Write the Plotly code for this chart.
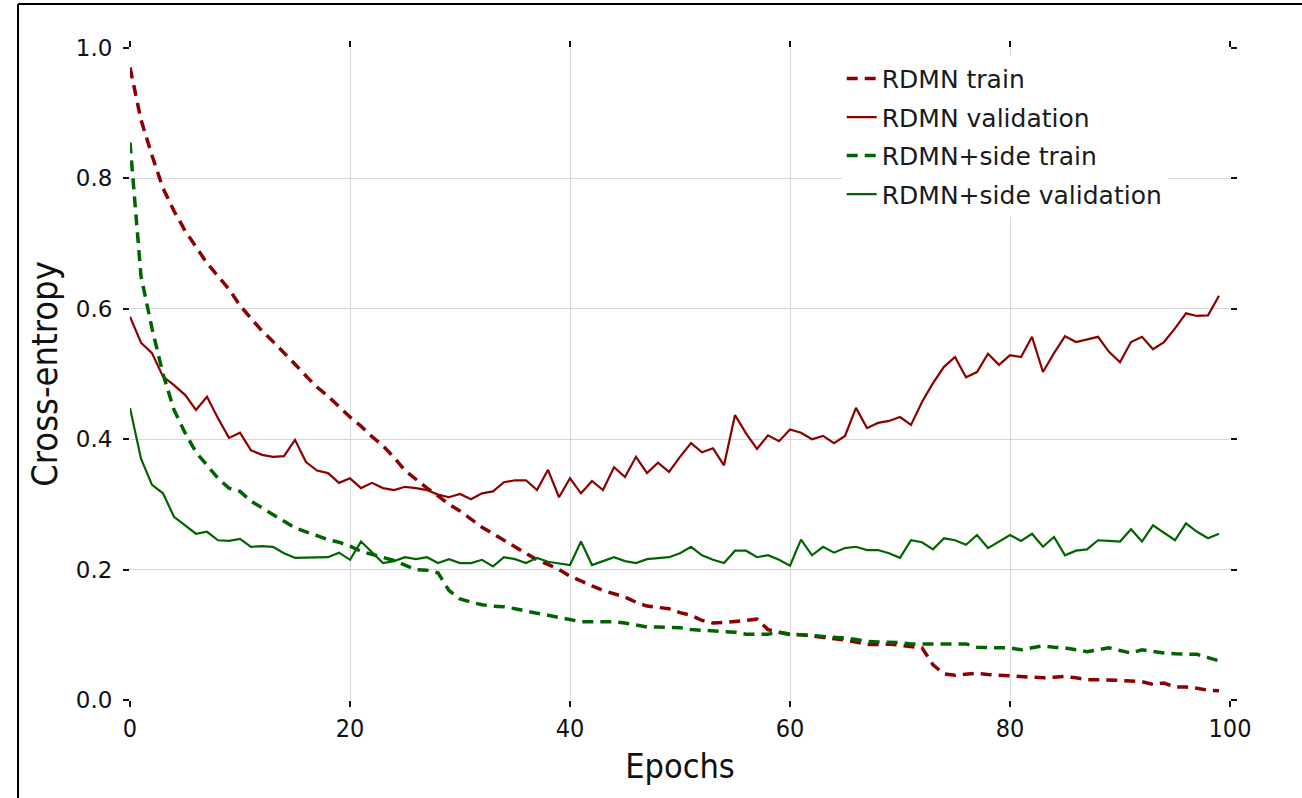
import plotly.graph_objects as go

# Training curves (cross-entropy per epoch)
epochs = list(range(100))

rdmn_train = [
    0.970, 0.890, 0.835, 0.785, 0.750, 0.720, 0.695, 0.670, 0.650, 0.630,
    0.605, 0.585, 0.566, 0.550, 0.533, 0.515, 0.497, 0.480, 0.466, 0.450,
    0.434, 0.420, 0.404, 0.390, 0.372, 0.352, 0.338, 0.325, 0.313, 0.300,
    0.290, 0.277, 0.265, 0.255, 0.245, 0.235, 0.225, 0.215, 0.208, 0.200,
    0.190, 0.182, 0.175, 0.168, 0.163, 0.158, 0.150, 0.144, 0.142, 0.140,
    0.134, 0.130, 0.122, 0.118, 0.119, 0.120, 0.122, 0.124, 0.108, 0.104,
    0.101, 0.100, 0.098, 0.097, 0.094, 0.092, 0.089, 0.085, 0.085, 0.086,
    0.084, 0.082, 0.080, 0.054, 0.040, 0.038, 0.040, 0.041, 0.039, 0.038,
    0.036, 0.035, 0.034, 0.034, 0.035, 0.036, 0.034, 0.031, 0.031, 0.031,
    0.030, 0.029, 0.028, 0.024, 0.026, 0.020, 0.020, 0.018, 0.015, 0.014,
]

rdmn_val = [
    0.588, 0.548, 0.532, 0.496, 0.483, 0.468, 0.445, 0.465, 0.432, 0.402,
    0.410, 0.383, 0.376, 0.373, 0.374, 0.399, 0.365, 0.352, 0.348, 0.333,
    0.340, 0.325, 0.333, 0.325, 0.322, 0.327, 0.325, 0.322, 0.315, 0.311,
    0.316, 0.308, 0.317, 0.320, 0.334, 0.337, 0.337, 0.322, 0.353, 0.311,
    0.340, 0.317, 0.336, 0.322, 0.357, 0.342, 0.373, 0.348, 0.364, 0.350,
    0.373, 0.394, 0.380, 0.386, 0.360, 0.437, 0.409, 0.385, 0.406, 0.397,
    0.415, 0.410, 0.400, 0.405, 0.394, 0.405, 0.448, 0.417, 0.425, 0.428,
    0.434, 0.422, 0.457, 0.486, 0.511, 0.526, 0.495, 0.503, 0.531, 0.514,
    0.529, 0.526, 0.557, 0.503, 0.532, 0.558, 0.549, 0.553, 0.557, 0.534,
    0.518, 0.549, 0.557, 0.538, 0.549, 0.570, 0.593, 0.589, 0.590, 0.620,
]

side_train = [
    0.855, 0.650, 0.570, 0.500, 0.445, 0.410, 0.380, 0.360, 0.340, 0.325,
    0.320, 0.305, 0.295, 0.285, 0.275, 0.264, 0.258, 0.252, 0.246, 0.242,
    0.236, 0.228, 0.223, 0.219, 0.214, 0.207, 0.200, 0.199, 0.195, 0.168,
    0.155, 0.150, 0.146, 0.144, 0.143, 0.140, 0.136, 0.133, 0.130, 0.127,
    0.124, 0.120, 0.120, 0.120, 0.120, 0.118, 0.115, 0.112, 0.112, 0.112,
    0.111, 0.108, 0.107, 0.106, 0.106, 0.104, 0.101, 0.101, 0.101, 0.104,
    0.100, 0.100, 0.099, 0.097, 0.096, 0.095, 0.093, 0.090, 0.089, 0.089,
    0.088, 0.086, 0.086, 0.087, 0.087, 0.087, 0.086, 0.081, 0.080, 0.080,
    0.080, 0.077, 0.080, 0.083, 0.081, 0.080, 0.077, 0.074, 0.077, 0.080,
    0.076, 0.072, 0.077, 0.074, 0.072, 0.071, 0.070, 0.070, 0.065, 0.060,
]

side_val = [
    0.448, 0.370, 0.330, 0.317, 0.281, 0.268, 0.255, 0.258, 0.245, 0.244,
    0.247, 0.235, 0.236, 0.235, 0.225, 0.218, 0.218, 0.219, 0.219, 0.226,
    0.215, 0.243, 0.227, 0.210, 0.213, 0.219, 0.216, 0.219, 0.210, 0.216,
    0.210, 0.210, 0.215, 0.205, 0.219, 0.216, 0.210, 0.218, 0.212, 0.210,
    0.207, 0.243, 0.207, 0.213, 0.219, 0.213, 0.210, 0.216, 0.218, 0.219,
    0.225, 0.235, 0.222, 0.215, 0.210, 0.229, 0.229, 0.219, 0.222, 0.215,
    0.206, 0.246, 0.222, 0.235, 0.226, 0.233, 0.235, 0.230, 0.230, 0.225,
    0.218, 0.245, 0.242, 0.231, 0.248, 0.245, 0.238, 0.253, 0.233, 0.243,
    0.253, 0.244, 0.255, 0.235, 0.250, 0.222, 0.229, 0.231, 0.245, 0.244,
    0.243, 0.262, 0.243, 0.268, 0.256, 0.245, 0.271, 0.258, 0.248, 0.255,
]

x_ticks = [0, 20, 40, 60, 80, 100]
y_ticks = [0.0, 0.2, 0.4, 0.6, 0.8, 1.0]
y_tick_text = ["0.0", "0.2", "0.4", "0.6", "0.8", "1.0"]

RED = "#8b0000"
GREEN = "#006400"
DASH = "11px,7px"

series = [
    ("RDMN train", rdmn_train, RED, DASH, 3.5),
    ("RDMN validation", rdmn_val, RED, "solid", 2.2),
    ("RDMN+side train", side_train, GREEN, DASH, 3.5),
    ("RDMN+side validation", side_val, GREEN, "solid", 2.2),
]

fig = go.Figure()
for i, (name, vals, color, dash, width) in enumerate(series):
    fig.add_trace(go.Scatter(
        x=epochs, y=vals, mode="lines", name=name,
        legendgroup=f"g{i}",
        line=dict(color=color, dash=dash, width=width),
    ))

axis_common = dict(
    showgrid=True, gridcolor="#d8d8d8", gridwidth=1,
    zeroline=False, showline=False,
    ticks="outside", ticklen=6, tickwidth=1.6, tickcolor="#111",
    mirror="ticks",
)

fig.update_layout(
    width=1302, height=798,
    margin=dict(l=130, r=72, t=48, b=98),
    paper_bgcolor="white", plot_bgcolor="white",
    showlegend=True,
    legend=dict(
        x=0.647, y=0.988, xanchor="left", yanchor="top",
        bgcolor="white", borderwidth=0,
        font=dict(family="DejaVu Sans, sans-serif", size=25, color="#1a1a1a"),
        tracegroupgap=3,
    ),
    xaxis=dict(
        range=[0, 100], tickvals=x_ticks, ticktext=[str(t) for t in x_ticks],
        tickfont=dict(family="DejaVu Sans Condensed, Liberation Sans Narrow, sans-serif",
                      size=25, color="#111"),
        title=dict(text="Epochs", standoff=12,
                   font=dict(family="DejaVu Sans Condensed, Liberation Sans Narrow, sans-serif",
                             size=34, color="#111")),
        **axis_common,
    ),
    yaxis=dict(
        range=[0, 1], tickvals=y_ticks, ticktext=y_tick_text,
        ticklabelstandoff=6,
        tickfont=dict(family="DejaVu Sans, sans-serif", size=23, color="#111"),
        title=dict(text="Cross-entropy", standoff=7,
                   font=dict(family="DejaVu Sans Condensed, Liberation Sans Narrow, sans-serif",
                             size=36, color="#111")),
        **axis_common,
    ),
    shapes=[
        # frame lines around the figure
        dict(type="line", xref="paper", yref="paper",
             x0=-0.1018, x1=-0.1018, y0=1.0675, y1=-0.16,
             line=dict(color="black", width=2)),
        dict(type="line", xref="paper", yref="paper",
             x0=-0.1018, x1=1.07, y0=1.0675, y1=1.0675,
             line=dict(color="black", width=2)),
    ],
)

fig.write_html("out.html")
